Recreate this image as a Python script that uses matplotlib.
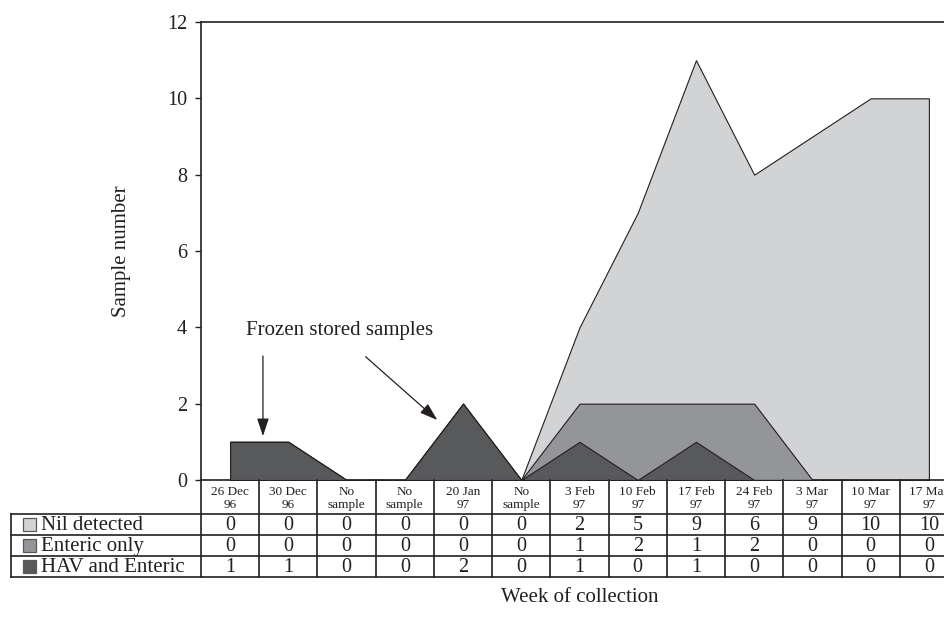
import matplotlib
matplotlib.use("Agg")
import matplotlib.pyplot as plt
import matplotlib.transforms as mtransforms
from matplotlib.patches import Rectangle
import numpy as np

plt.rcParams['font.family'] = ['Liberation Serif', 'DejaVu Serif']

categories = ["26 Dec\n96", "30 Dec\n96", "No\nsample", "No\nsample", "20 Jan\n97",
              "No\nsample", "3 Feb\n97", "10 Feb\n97", "17 Feb\n97", "24 Feb\n97",
              "3 Mar\n97", "10 Mar\n97", "17 Mar\n97"]
hav_enteric = [1, 1, 0, 0, 2, 0, 1, 0, 1, 0, 0, 0, 0]
enteric_only = [0, 0, 0, 0, 0, 0, 1, 2, 1, 2, 0, 0, 0]
nil_detected = [0, 0, 0, 0, 0, 0, 2, 5, 9, 6, 9, 10, 10]
series_names = ["Nil detected", "Enteric only", "HAV and Enteric"]
series_colors = ["#d1d3d4", "#939598", "#58595b"]
yticks = [0, 2, 4, 6, 8, 10, 12]

W, H = 945, 625
fig = plt.figure(figsize=(W / 100, H / 100), dpi=100)
ax_left, ax_right, ax_top, ax_bottom = 201, 958, 22, 480
ax = fig.add_axes([ax_left / W, 1 - ax_bottom / H, (ax_right - ax_left) / W, (ax_bottom - ax_top) / H])

x = np.arange(len(categories))
h = np.array(hav_enteric)
e = np.array(enteric_only)
n = np.array(nil_detected)
edge = "#231f20"
ax.fill_between(x, 0, h + e + n, facecolor=series_colors[0], edgecolor=edge, lw=0.8, zorder=2)
ax.fill_between(x, 0, h + e, facecolor=series_colors[1], edgecolor=edge, lw=0.8, zorder=3)
ax.fill_between(x, 0, h, facecolor=series_colors[2], edgecolor=edge, lw=0.8, zorder=4)

ax.set_xlim(-0.5, len(categories) - 0.5)
ax.set_ylim(0, 12)
ax.set_yticks(yticks)
ax.set_xticks([])
ax.tick_params(axis='y', labelsize=14.5, length=4, width=1.0, pad=6, colors='#231f20')
for s in ax.spines.values():
    s.set_linewidth(1.2)
    s.set_color('#231f20')
ax.set_ylabel("Sample number", fontsize=15, labelpad=26, color='#231f20')

# annotation
ax.text(1.886, 3.91, "Frozen stored samples", fontsize=15, ha='center', va='center', color='#231f20')
ap = dict(arrowstyle='-|>,head_length=0.6,head_width=0.2', color='#231f20', lw=0.9,
          shrinkA=0, shrinkB=0, mutation_scale=18)
ax.annotate("", xy=(0.564, 1.15), xytext=(0.564, 3.25), arrowprops=ap)
ax.annotate("", xy=(3.557, 1.572), xytext=(2.327, 3.23), arrowprops=ap)

# table
tr = mtransforms.blended_transform_factory(ax.transData, fig.transFigure)
def fy(py):
    return 1 - py / H

row_top = 514
row_h = 21
lc = '#231f20'
ncat = len(categories)
for i in range(ncat + 1):
    xb = i - 0.5
    fig.add_artist(plt.Line2D([xb, xb], [fy(ax_bottom), fy(row_top + 3 * row_h)], transform=tr,
                              color=lc, lw=1.2, clip_on=False))
for r in range(4):
    yy = fy(row_top + r * row_h)
    fig.add_artist(plt.Line2D([11 / W, 1.05], [yy, yy], transform=fig.transFigure,
                              color=lc, lw=1.2, clip_on=False))
fig.add_artist(plt.Line2D([11 / W, 11 / W], [fy(row_top), fy(row_top + 3 * row_h)],
                          transform=fig.transFigure, color=lc, lw=1.2))

for i, c in enumerate(categories):
    fig.text(i, fy((ax_bottom + row_top) / 2 + 1.5), c, transform=tr, ha='center', va='center',
             fontsize=9.5, linespacing=1.2, color=lc)

rows = [nil_detected, enteric_only, hav_enteric]
for r, (name, vals, col) in enumerate(zip(series_names, rows, series_colors)):
    yc = row_top + r * row_h + row_h / 2
    for i, v in enumerate(vals):
        fig.text(i, fy(yc + 1), str(v), transform=tr, ha='center', va='center', fontsize=14.5, color=lc)
    fig.add_artist(Rectangle((23 / W, fy(yc + 6.5)), 13 / W, 13 / H, transform=fig.transFigure,
                             facecolor=col, edgecolor='#58595b', lw=0.9))
    fig.text(41 / W, fy(yc + 1), name, ha='left', va='center', fontsize=15, color=lc)

fig.text((ax_left + ax_right) / 2 / W, fy(598), "Week of collection", ha='center', va='center',
         fontsize=15, color=lc)

fig.savefig("out.png", dpi=100)
